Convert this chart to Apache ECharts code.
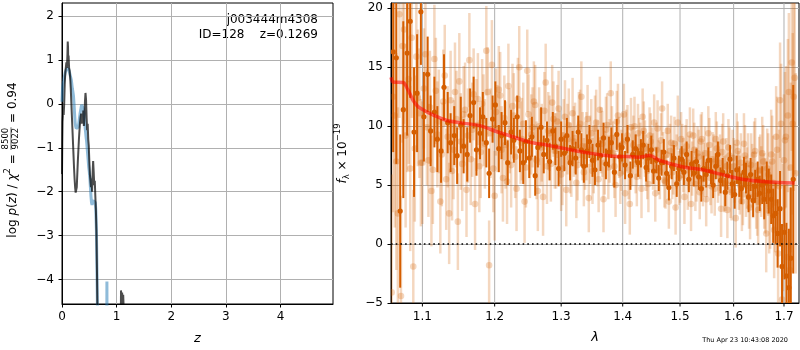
<!DOCTYPE html>
<html>
<head>
<meta charset="utf-8">
<script src="https://cdn.jsdelivr.net/npm/echarts@6/dist/echarts.min.js"></script>
<style>
html, body { margin: 0; padding: 0; background: #fff; }
#chart { width: 800px; height: 350px; }
</style>
</head>
<body>
<div id="chart"></div>
<script>
// ---- redshift probability: log p(z) from two fits ----
const zBlue = [0,0.01,0.02,0.03,0.04,0.05,0.06,0.07,0.08,0.09,0.10,0.11,0.12,0.13,0.14,0.15,0.16,0.17,0.18,0.19,
  0.20,0.21,0.22,0.23,0.24,0.25,0.26,0.27,0.28,0.29,0.30,0.31,0.32,0.33,0.34,0.35,0.36,0.37,0.38,0.39,
  0.40,0.41,0.42,0.43,0.44,0.45,0.46,0.47,0.48,0.49,0.50,0.51,0.52,0.53,0.54,0.55,0.56,0.57,0.58,0.59,
  0.60,0.61,0.62,0.63,0.64,0.65,0.66,0.67,0.818,0.822,0.826];
const logpBlue = [0.05,0.35,0.45,0.52,0.6,0.66,0.72,0.76,0.79,0.81,0.82,0.82,0.8,0.75,0.7,0.65,0.6,0.55,0.45,0.35,
  0.27,0.18,0.0,-0.22,-0.42,-0.51,-0.56,-0.58,-0.6,-0.59,-0.52,-0.42,-0.32,-0.22,-0.15,-0.08,-0.02,0.02,-0.02,-0.1,
  -0.2,-0.35,-0.5,-0.62,-0.75,-0.85,-1.0,-1.15,-1.3,-1.45,-1.55,-1.7,-1.9,-2.1,-2.25,-2.3,-2.25,-2.2,-2.22,-2.2,
  -2.2,-2.25,-2.45,-2.9,-3.8,-4.8,-6,null,-6,-4.05,-6];

const zDark = [0,0.005,0.01,0.02,0.03,0.04,0.05,0.06,0.07,0.08,0.09,0.10,0.105,0.11,0.115,0.12,0.13,0.14,0.15,0.16,
  0.17,0.18,0.19,0.20,0.21,0.22,0.23,0.24,0.25,0.26,0.27,0.28,0.29,0.30,0.31,0.32,0.33,0.34,0.35,0.36,
  0.37,0.38,0.39,0.40,0.41,0.42,0.43,0.44,0.45,0.46,0.47,0.48,0.49,0.50,0.51,0.52,0.53,0.54,0.55,0.56,
  0.57,0.58,0.59,0.60,0.61,0.62,0.63,0.64,0.65,0.66,0.67,1.07,1.08,1.09,1.10,1.11,1.12,1.13,1.14];
const logpDark = [-1.6,-0.9,-0.4,-0.2,-0.25,0.0,0.45,0.7,0.72,0.95,0.82,1.15,1.42,1.3,0.9,1.1,0.82,0.75,0.6,0.35,
  0.05,-0.25,-0.55,-0.85,-1.15,-1.45,-1.7,-1.9,-2.02,-2.06,-1.9,-1.6,-1.3,-1.05,-0.8,-0.6,-0.42,-0.3,-0.22,-0.45,
  -0.25,-0.4,-0.15,-0.5,-0.3,0.05,0.25,0.1,-0.3,-0.6,-0.45,-0.8,-0.95,-1.3,-1.6,-1.75,-1.9,-1.7,-2.0,-1.6,
  -1.3,-1.55,-1.85,-1.75,-2.1,-2.4,-2.9,-3.8,-4.8,-6.0,null,-6,-4.25,-4.6,-4.3,-4.55,-4.35,-4.7,-6];

const zRange = [0, 4.96];
const logpRange = [-4.56, 2.30];

// ---- 1D spectrum (flux in units of 1e-19) ----
// combined spectrum
const lamDark = [1.062,1.066,1.071,1.075,1.080,1.084,1.089,1.093,1.098,1.102,
  1.107,1.111,1.116,1.120,1.125,1.129,1.134,1.138,1.143,1.147,
  1.152,1.156,1.161,1.165,1.170,1.174,1.179,1.183,1.188,1.192,
  1.197,1.201,1.206,1.210,1.215,1.219,1.224,1.228,1.233,1.237,
  1.242,1.246,1.251,1.255,1.260,1.264,1.269,1.273,1.278,1.282,
  1.287,1.291,1.296,1.300,1.305,1.309,1.314,1.318,1.323,1.327,
  1.332,1.336,1.341,1.345,1.350,1.354,1.359,1.363,1.368,1.372,
  1.377,1.381,1.386,1.390,1.395,1.399,1.404,1.408,1.413,1.417,
  1.422,1.426,1.431,1.435,1.440,1.444,1.449,1.453,1.458,1.462,
  1.467,1.471,1.476,1.480,1.485,1.489,1.494,1.498,1.503,1.507,
  1.512,1.516,1.521,1.525,1.530,1.534,1.539,1.543,1.548,1.552,
  1.557,1.561,1.566,1.570,1.575,1.579,1.584,1.588,1.593,1.597,
  1.602,1.606,1.611,1.615,1.620,1.624,1.629,1.633,1.638,1.642,
  1.647,1.651,1.656,1.660,1.665,1.669,1.674,1.678,1.683,1.687,
  1.692,1.696,1.701,1.705,1.710,1.714,1.719];
const fluxDark = [16.3,15.8,2.8,11.4,16.2,18.9,9.5,12.8,19.7,10.8,
  14.4,9.6,11.2,8.9,7.9,13.3,10.3,8.6,9.2,7.5,
  10.1,8.3,7.6,10.9,12.0,8.0,9.4,10.8,8.6,6.0,
  10.6,11.8,8.1,9.2,10.3,6.9,9.5,8.8,10.8,7.9,
  6.9,8.7,7.3,9.1,5.8,8.2,9.9,7.6,8.8,7.0,
  9.6,8.3,6.4,8.9,7.7,9.2,6.9,8.1,7.3,9.5,
  8.0,6.6,7.9,8.7,7.1,6.3,8.4,7.5,9.0,6.8,
  7.8,8.6,6.1,9.3,7.4,8.2,6.7,8.9,5.8,7.6,
  8.1,6.9,7.7,8.4,6.5,7.3,8.0,6.2,7.1,5.6,
  6.9,7.8,6.0,4.8,6.6,7.3,5.1,6.4,7.2,6.1,
  7.6,5.5,6.8,6.0,7.0,5.7,4.7,6.4,5.9,7.1,
  6.2,5.0,6.6,7.6,5.4,6.1,4.4,5.8,7.2,5.1,
  4.2,6.3,5.3,4.7,6.1,5.6,4.0,5.9,3.7,4.9,
  5.5,4.3,5.0,3.8,5.2,4.5,3.8,2.4,2.6,0.9,
  3.0,-1.9,1.0,-2.7,-3.7,-1.2,5.5];
const errDark = [8.5,9.0,6.5,7.5,7.0,6.5,5.5,5.0,4.5,3.8,
  3.2,3.0,3.0,2.8,2.7,2.8,2.6,2.5,2.5,2.4,
  2.4,2.3,2.3,2.3,2.2,2.2,2.2,2.1,2.1,2.1,
  2.0,2.0,2.0,2.0,1.9,1.9,1.9,1.9,1.8,1.8,
  1.8,1.8,1.7,1.7,1.7,1.7,1.7,1.6,1.6,1.6,
  1.6,1.6,1.5,1.5,1.5,1.5,1.5,1.5,1.4,1.4,
  1.4,1.4,1.4,1.4,1.4,1.3,1.3,1.3,1.3,1.3,
  1.3,1.3,1.3,1.3,1.2,1.2,1.2,1.2,1.2,1.2,
  1.2,1.2,1.2,1.2,1.2,1.2,1.2,1.1,1.1,1.1,
  1.1,1.1,1.1,1.1,1.1,1.1,1.1,1.1,1.1,1.1,
  1.1,1.1,1.1,1.1,1.1,1.1,1.1,1.1,1.1,1.1,
  1.1,1.1,1.1,1.1,1.1,1.2,1.2,1.2,1.2,1.2,
  1.2,1.2,1.3,1.3,1.3,1.3,1.3,1.4,1.4,1.4,
  1.5,1.5,1.6,1.7,1.8,1.9,2.1,2.3,2.6,2.9,
  3.2,3.6,4.0,4.5,5.0,6.0,8.0];

// individual exposures, first set
const lamLightA = [1.060,1.064,1.068,1.072,1.076,1.080,1.084,1.088,1.092,1.096,
  1.100,1.104,1.108,1.112,1.116,1.120,1.124,1.128,1.132,1.136,
  1.140,1.144,1.148,1.152,1.156,1.160,1.164,1.168,1.172,1.176,
  1.180,1.184,1.188,1.192,1.196,1.200,1.204,1.208,1.212,1.216,
  1.220,1.224,1.228,1.232,1.236,1.240,1.244,1.248,1.252,1.256,
  1.260,1.264,1.268,1.272,1.276,1.280,1.284,1.288,1.292,1.296,
  1.300,1.304,1.308,1.312,1.316,1.320,1.324,1.328,1.332,1.336,
  1.340,1.344,1.348,1.352,1.356,1.360,1.364,1.368,1.372,1.376,
  1.380,1.384,1.388,1.392,1.396,1.400,1.404,1.408,1.412,1.416,
  1.420,1.424,1.428,1.432,1.436,1.440,1.444,1.448,1.452,1.456,
  1.460,1.464,1.468,1.472,1.476,1.480,1.484,1.488,1.492,1.496,
  1.500,1.504,1.508,1.512,1.516,1.520,1.524,1.528,1.532,1.536,
  1.540,1.544,1.548,1.552,1.556,1.560,1.564,1.568,1.572,1.576,
  1.580,1.584,1.588,1.592,1.596,1.600,1.604,1.608,1.612,1.616,
  1.620,1.624,1.628,1.632,1.636,1.640,1.644,1.648,1.652,1.656,
  1.660,1.664,1.668,1.672,1.676,1.680,1.684,1.688,1.692,1.696,
  1.700,1.704,1.708,1.712,1.716,1.720,1.724];
const fluxLightA = [-4.1,10.9,2.6,-4.4,18.2,13.6,6.4,-1.9,15.9,11.1,
  6.9,16.1,7.1,4.5,15.7,9.3,3.6,12.1,5.5,2.6,
  6.2,12.9,1.9,8.7,11.0,4.6,15.6,9.7,3.4,12.3,
  7.8,10.5,16.4,-1.8,15.2,4.1,9.8,12.6,5.6,8.4,
  13.4,6.7,10.9,4.7,15.0,8.9,3.6,14.7,7.3,9.9,
  11.8,4.5,8.2,4.0,13.7,9.6,6.8,10.6,7.9,11.5,
  5.9,9.2,4.6,10.1,7.0,8.7,5.2,9.9,12.5,6.1,
  8.3,3.9,9.4,7.2,10.3,5.5,8.8,3.8,9.7,6.5,
  12.8,7.7,5.0,10.9,6.0,8.5,4.3,9.2,3.4,7.4,
  10.0,5.7,8.2,4.7,9.6,6.9,5.1,8.7,7.0,4.3,
  9.8,6.2,11.5,5.4,7.6,3.6,8.6,6.5,3.1,10.3,
  5.8,7.9,4.0,8.3,6.9,3.4,9.2,5.1,7.7,4.4,
  8.9,6.3,3.8,9.4,5.6,7.2,4.7,8.1,6.4,3.0,
  8.7,5.2,2.9,7.5,4.4,6.6,2.2,7.9,5.0,3.6,
  8.5,4.9,6.8,3.1,5.8,7.6,4.1,2.9,6.3,7.7,
  4.5,0.9,5.9,3.3,7.0,1.2,9.1,-0.8,12.2,-4.7,
  7.1,9.1,10.9,-2.2,15.4,12.5,6.0];
const errLightA = [10,9.5,9,8.5,8,7.5,7,6.5,6,5.5,
  5.2,5.0,4.8,4.7,4.6,4.5,4.4,4.4,4.3,4.3,
  4.2,4.2,4.1,4.1,4.1,4.0,4.0,4.0,3.9,3.9,
  3.9,3.9,3.8,3.8,3.8,3.8,3.7,3.7,3.7,3.7,
  3.6,3.6,3.6,3.6,3.5,3.5,3.5,3.5,3.4,3.4,
  3.4,3.4,3.3,3.3,3.3,3.3,3.2,3.2,3.2,3.2,
  3.1,3.1,3.1,3.1,3.0,3.0,3.0,3.0,3.0,2.9,
  2.9,2.9,2.9,2.9,2.8,2.8,2.8,2.8,2.8,2.7,
  2.7,2.7,2.7,2.7,2.6,2.6,2.6,2.6,2.6,2.5,
  2.5,2.5,2.5,2.5,2.5,2.4,2.4,2.4,2.4,2.4,
  2.4,2.4,2.3,2.3,2.3,2.3,2.3,2.3,2.3,2.3,
  2.3,2.3,2.3,2.3,2.3,2.3,2.3,2.3,2.3,2.3,
  2.3,2.3,2.3,2.3,2.3,2.3,2.3,2.3,2.3,2.4,
  2.4,2.4,2.4,2.4,2.4,2.4,2.5,2.5,2.5,2.5,
  2.6,2.6,2.6,2.7,2.7,2.8,2.8,2.9,3.0,3.1,
  3.2,3.3,3.5,3.7,3.9,4.1,4.3,4.6,4.9,5.2,
  5.6,6.0,6.5,7.0,7.5,8.0,8.5];

// individual exposures, second set
const lamLightB = [1.062,1.066,1.070,1.074,1.078,1.082,1.086,1.090,1.094,1.098,
  1.102,1.106,1.110,1.114,1.118,1.122,1.126,1.130,1.134,1.138,
  1.142,1.146,1.150,1.154,1.158,1.162,1.166,1.170,1.174,1.178,
  1.182,1.186,1.190,1.194,1.198,1.202,1.206,1.210,1.214,1.218,
  1.222,1.226,1.230,1.234,1.238,1.242,1.246,1.250,1.254,1.258,
  1.262,1.266,1.270,1.274,1.278,1.282,1.286,1.290,1.294,1.298,
  1.302,1.306,1.310,1.314,1.318,1.322,1.326,1.330,1.334,1.338,
  1.342,1.346,1.350,1.354,1.358,1.362,1.366,1.370,1.374,1.378,
  1.382,1.386,1.390,1.394,1.398,1.402,1.406,1.410,1.414,1.418,
  1.422,1.426,1.430,1.434,1.438,1.442,1.446,1.450,1.454,1.458,
  1.462,1.466,1.470,1.474,1.478,1.482,1.486,1.490,1.494,1.498,
  1.502,1.506,1.510,1.514,1.518,1.522,1.526,1.530,1.534,1.538,
  1.542,1.546,1.550,1.554,1.558,1.562,1.566,1.570,1.574,1.578,
  1.582,1.586,1.590,1.594,1.598,1.602,1.606,1.610,1.614,1.618,
  1.622,1.626,1.630,1.634,1.638,1.642,1.646,1.650,1.654,1.658,
  1.662,1.666,1.670,1.674,1.678,1.682,1.686,1.690,1.694,1.698,
  1.702,1.706,1.710,1.714,1.718,1.722];
const fluxLightB = [12.5,7.0,19.5,16.8,9.2,14.0,17.5,8.1,12.4,6.9,
  13.2,9.9,11.6,6.3,13.0,10.4,7.6,14.3,9.1,12.2,
  8.0,10.6,13.8,6.8,11.4,9.2,7.2,12.7,10.1,6.6,
  11.9,8.5,12.9,9.4,6.4,11.2,13.1,8.0,10.7,5.3,
  9.6,11.7,7.4,12.3,8.6,10.2,6.5,11.0,9.3,12.1,
  7.1,10.0,8.6,11.3,6.6,9.4,12.0,7.9,10.4,8.2,
  6.4,10.8,8.9,7.3,11.1,9.0,6.7,10.2,8.3,7.5,
  10.6,8.0,6.2,9.8,7.7,11.4,8.5,6.9,10.1,7.9,
  9.0,6.6,10.4,8.2,7.1,11.0,8.8,6.3,9.9,8.4,
  6.8,9.4,7.9,10.8,8.1,6.2,9.2,7.5,10.3,8.0,
  6.5,8.8,7.2,5.3,9.6,7.9,6.1,8.5,7.0,5.6,
  8.9,6.7,7.8,5.2,9.3,6.4,8.0,5.9,7.4,8.7,
  5.5,7.7,6.3,8.4,4.9,7.0,8.9,5.8,6.9,7.8,
  5.1,6.6,8.2,4.6,7.3,6.0,8.6,5.4,6.9,4.2,
  7.5,5.6,4.0,6.7,5.0,7.9,3.6,6.2,5.3,7.0,
  4.1,6.4,2.8,7.6,5.2,3.5,8.0,4.9,10.2,1.4,
  8.8,-1.1,12.9,6.5,10.2,14.1];
const errLightB = [9.8,9.2,8.8,8.2,7.8,7.2,6.8,6.2,5.8,5.4,
  5.1,4.9,4.8,4.6,4.5,4.4,4.4,4.3,4.3,4.2,
  4.2,4.1,4.1,4.0,4.0,4.0,3.9,3.9,3.9,3.9,
  3.8,3.8,3.8,3.8,3.7,3.7,3.7,3.7,3.6,3.6,
  3.6,3.6,3.5,3.5,3.5,3.5,3.4,3.4,3.4,3.4,
  3.3,3.3,3.3,3.3,3.2,3.2,3.2,3.2,3.1,3.1,
  3.1,3.1,3.0,3.0,3.0,3.0,3.0,2.9,2.9,2.9,
  2.9,2.9,2.8,2.8,2.8,2.8,2.8,2.7,2.7,2.7,
  2.7,2.7,2.6,2.6,2.6,2.6,2.6,2.5,2.5,2.5,
  2.5,2.5,2.4,2.4,2.4,2.4,2.4,2.4,2.4,2.3,
  2.3,2.3,2.3,2.3,2.3,2.3,2.3,2.3,2.3,2.3,
  2.3,2.3,2.3,2.3,2.3,2.3,2.3,2.3,2.3,2.3,
  2.3,2.3,2.3,2.3,2.3,2.3,2.3,2.3,2.4,2.4,
  2.4,2.4,2.4,2.4,2.4,2.5,2.5,2.5,2.5,2.6,
  2.6,2.6,2.7,2.7,2.8,2.8,2.9,2.9,3.0,3.1,
  3.2,3.4,3.6,3.8,4.0,4.2,4.5,4.8,5.1,5.4,
  5.8,6.2,6.7,7.2,7.7,8.2];

// best-fit template
const lamModel = [1.0592,1.062,1.0746,1.0811,1.0877,1.0942,1.1008,1.1141,1.132,1.1499,
  1.1786,1.2025,1.2268,1.2517,1.2771,1.3029,1.3293,1.353,1.3837,1.408,
  1.426,1.446,1.464,1.502,1.547,1.592,1.623,1.655,1.688,1.722];
const fluxModel = [14.15,13.75,13.7,13.08,12.2,11.66,11.4,10.96,10.5,10.3,
  10.05,9.55,9.1,8.65,8.4,8.13,7.85,7.65,7.45,7.42,
  7.37,7.51,7.09,6.58,6.24,5.73,5.45,5.31,5.22,5.18];

const lamTicks = [1.1, 1.2, 1.3, 1.4, 1.5, 1.6, 1.7];
const lamRange = [1.0592, 1.731];
const fluxRange = [-5, 20.45];

const objName = 'j003444m4308';
const objInfo = 'ID=128    z=0.1269';
const stamp = 'Thu Apr 23 10:43:08 2020';

// ---- drawing ----
const FAM = '"DejaVu Sans", sans-serif';
const G141 = '#d55e00';
const G141_FAINT = 'rgba(213,94,0,0.25)';
const GRID_GREY = '#b0b0b0';

const mctx = document.createElement('canvas').getContext('2d');
function textWidth(text, font) { mctx.font = font; return mctx.measureText(text).width; }

function minusFmt(v) {
  if (Math.abs(v - Math.round(v)) > 1e-6) return '';
  return v < 0 ? '\u2212' + Math.abs(v) : String(v);
}

function pairs(xs, ys) { return xs.map((x, i) => [x, ys[i]]); }
function triples(xs, ys, es) { return xs.map((x, i) => [x, ys[i], es[i]]); }

function errorBars(color, lw, r) {
  return function (params, api) {
    const x = api.value(0), y = api.value(1), e = api.value(2);
    const lo = api.coord([x, y - e]);
    const hi = api.coord([x, y + e]);
    const c = api.coord([x, y]);
    return {
      type: 'group',
      children: [
        { type: 'line', shape: { x1: lo[0], y1: lo[1], x2: hi[0], y2: hi[1] },
          style: { stroke: color, lineWidth: lw } },
        { type: 'circle', shape: { cx: c[0], cy: c[1], r: r }, style: { fill: color } }
      ]
    };
  };
}

// rotated y-axis titles built from pieces (fractions / sub- and superscripts)
function rotatedTitle(cx, cy, pieces) {
  let total = 0;
  pieces.forEach(p => {
    if (p.frac) {
      p.w = Math.max(textWidth(p.frac[0], p.font), textWidth(p.frac[1], p.font)) + 2;
    } else {
      p.w = textWidth(p.t, p.font);
    }
    total += p.w;
  });
  let x = -total / 2;
  const children = [];
  pieces.forEach(p => {
    if (p.frac) {
      const mid = x + p.w / 2;
      children.push({ type: 'text', style: { text: p.frac[0], x: mid, y: p.dy[0], font: p.font,
        fill: '#000', align: 'center', verticalAlign: 'middle' } });
      children.push({ type: 'line', shape: { x1: x + 0.5, y1: p.dy[1], x2: x + p.w - 0.5, y2: p.dy[1] },
        style: { stroke: '#000', lineWidth: 0.6 } });
      children.push({ type: 'text', style: { text: p.frac[1], x: mid, y: p.dy[2], font: p.font,
        fill: '#000', align: 'center', verticalAlign: 'middle' } });
    } else {
      children.push({ type: 'text', style: { text: p.t, x: x, y: p.dy || 0, font: p.font,
        fill: '#000', align: 'left', verticalAlign: 'middle' } });
    }
    x += p.w;
  });
  return { type: 'group', x: cx, y: cy, rotation: Math.PI / 2, silent: true, children: children };
}

const REG = '12px ' + FAM;
const ITA = 'italic 12px ' + FAM;
const SMALL = '8.5px ' + FAM;

const leftTitle = rotatedTitle(13, 160, [
  { t: 'log ', font: REG }, { t: 'p', font: ITA }, { t: '(', font: REG }, { t: 'z', font: ITA },
  { t: ') / ', font: REG }, { t: '\u03c7', font: ITA }, { t: '2', font: SMALL, dy: -5 },
  { t: ' = ', font: REG }, { frac: ['8500', '9022'], font: SMALL, dy: [-7, -2, 3] },
  { t: ' = 0.94', font: REG }
]);
const rightTitle = rotatedTitle(343, 153.5, [
  { t: 'f', font: ITA }, { t: '\u03bb', font: SMALL, dy: 3.5 }, { t: ' \u00d7 10', font: REG },
  { t: '\u221219', font: SMALL, dy: -5 }
]);

const axisText = { color: '#000', fontFamily: FAM, fontSize: 12 };

const chart = echarts.init(document.getElementById('chart'), null, { renderer: 'canvas' });

chart.setOption({
  animation: false,
  backgroundColor: '#fff',
  grid: [
    { left: 62, top: 3, width: 271, height: 301, show: true, borderColor: '#000', borderWidth: 1, backgroundColor: 'transparent' },
    { left: 391, top: 3, width: 408, height: 300, show: true, borderColor: '#000', borderWidth: 1, backgroundColor: 'transparent' }
  ],
  xAxis: [
    {
      type: 'value', gridIndex: 0, min: zRange[0], max: zRange[1], interval: 1,
      axisLine: { show: true, onZero: false, lineStyle: { color: '#000', width: 1 } },
      axisTick: { show: true, inside: false, length: 3.5, lineStyle: { color: '#000' } },
      axisLabel: { ...axisText, margin: 7, formatter: minusFmt, showMaxLabel: false },
      splitLine: { show: true, showMinLine: false, showMaxLine: false, lineStyle: { color: GRID_GREY, width: 1 } },
      name: 'z', nameLocation: 'middle', nameGap: 28,
      nameTextStyle: { color: '#000', fontFamily: FAM, fontSize: 13, fontStyle: 'italic' }
    },
    {
      type: 'log', gridIndex: 1, logBase: 10, min: lamRange[0], max: lamRange[1],
      axisLine: { show: true, onZero: false, lineStyle: { color: '#000', width: 1 } },
      axisTick: { show: false }, axisLabel: { show: false }, splitLine: { show: false },
      name: '\u03bb', nameLocation: 'middle', nameGap: 28,
      nameTextStyle: { color: '#000', fontFamily: FAM, fontSize: 13, fontStyle: 'italic' }
    }
  ],
  yAxis: [
    {
      type: 'value', gridIndex: 0, min: logpRange[0], max: logpRange[1], splitNumber: 7,
      axisLine: { show: true, onZero: false, lineStyle: { color: '#000', width: 1 } },
      axisTick: { show: true, inside: false, length: 3.5, lineStyle: { color: '#000' } },
      axisLabel: { ...axisText, margin: 8, formatter: minusFmt, showMinLabel: false, showMaxLabel: false },
      splitLine: { show: true, showMinLine: false, showMaxLine: false, lineStyle: { color: GRID_GREY, width: 1 } }
    },
    {
      type: 'value', gridIndex: 1, min: fluxRange[0], max: fluxRange[1], interval: 5,
      axisLine: { show: true, onZero: false, lineStyle: { color: '#000', width: 1 } },
      axisTick: { show: true, inside: false, length: 3.5, lineStyle: { color: '#000' } },
      axisLabel: { ...axisText, margin: 8, formatter: v => (Math.abs(v % 5) < 1e-6 ? minusFmt(v) : ''), showMaxLabel: false },
      splitLine: { show: true, showMinLine: false, showMaxLine: false, lineStyle: { color: GRID_GREY, width: 1 } }
    }
  ],
  series: [
    {
      name: 'p(z) template fit', type: 'line', xAxisIndex: 0, yAxisIndex: 0,
      data: pairs(zBlue, logpBlue), showSymbol: false, connectNulls: false, clip: true,
      lineStyle: { color: 'rgba(31,119,180,0.5)', width: 3 }, z: 3
    },
    {
      name: 'p(z)', type: 'line', xAxisIndex: 0, yAxisIndex: 0,
      data: pairs(zDark, logpDark), showSymbol: false, connectNulls: false, clip: true,
      lineStyle: { color: 'rgba(0,0,0,0.7)', width: 2 }, z: 4
    },
    {
      // wavelength grid lines, ticks and labels placed through the log axis
      name: 'lambda ticks', type: 'custom', xAxisIndex: 1, yAxisIndex: 1,
      data: lamTicks.map(t => [t, 0]), z: 1, silent: true,
      renderItem: function (params, api) {
        const v = api.value(0);
        const top = api.coord([v, fluxRange[1]]);
        const bot = api.coord([v, fluxRange[0]]);
        return {
          type: 'group',
          children: [
            { type: 'line', shape: { x1: bot[0], y1: bot[1], x2: top[0], y2: top[1] },
              style: { stroke: GRID_GREY, lineWidth: 1 } },
            { type: 'line', shape: { x1: bot[0], y1: bot[1], x2: bot[0], y2: bot[1] + 3.5 },
              style: { stroke: '#000', lineWidth: 1 } },
            { type: 'text', style: { text: v.toFixed(1), x: bot[0], y: bot[1] + 8,
              align: 'center', verticalAlign: 'top', font: '12px ' + FAM, fill: '#000' } }
          ]
        };
      }
    },
    {
      name: 'G141 exposures A', type: 'custom', xAxisIndex: 1, yAxisIndex: 1, clip: true,
      data: triples(lamLightA, fluxLightA, errLightA), encode: { x: 0, y: 1 },
      renderItem: errorBars(G141_FAINT, 2.5, 3.3), z: 2, silent: true
    },
    {
      name: 'G141 exposures B', type: 'custom', xAxisIndex: 1, yAxisIndex: 1, clip: true,
      data: triples(lamLightB, fluxLightB, errLightB), encode: { x: 0, y: 1 },
      renderItem: errorBars(G141_FAINT, 2.5, 3.3), z: 2, silent: true
    },
    {
      name: 'G141', type: 'custom', xAxisIndex: 1, yAxisIndex: 1, clip: true,
      data: triples(lamDark, fluxDark, errDark), encode: { x: 0, y: 1 },
      renderItem: errorBars(G141, 2, 2.6), z: 3, silent: true
    },
    {
      name: 'zero', type: 'line', xAxisIndex: 1, yAxisIndex: 1,
      data: [[lamRange[0], 0], [lamRange[1], 0]], showSymbol: false,
      lineStyle: { color: '#000', width: 1.6, type: [1.6, 3.1] }, z: 4, silent: true
    },
    {
      name: 'model', type: 'line', xAxisIndex: 1, yAxisIndex: 1,
      data: pairs(lamModel, fluxModel), showSymbol: false, smooth: 0.3, clip: true,
      lineStyle: { color: 'rgba(255,0,0,0.55)', width: 3.5 }, z: 5, silent: true
    }
  ],
  graphic: [
    leftTitle,
    rightTitle,
    { type: 'text', silent: true, style: { text: objName, x: 318, y: 20, align: 'right', verticalAlign: 'middle',
      font: '12px ' + FAM, fill: '#000' } },
    { type: 'text', silent: true, style: { text: objInfo, x: 318, y: 34.5, align: 'right', verticalAlign: 'middle',
      font: '12px ' + FAM, fill: '#000' } },
    { type: 'text', silent: true, style: { text: stamp, x: 788, y: 340, align: 'right', verticalAlign: 'middle',
      font: '6.5px ' + FAM, fill: '#000' } }
  ]
});
</script>
</body>
</html>
